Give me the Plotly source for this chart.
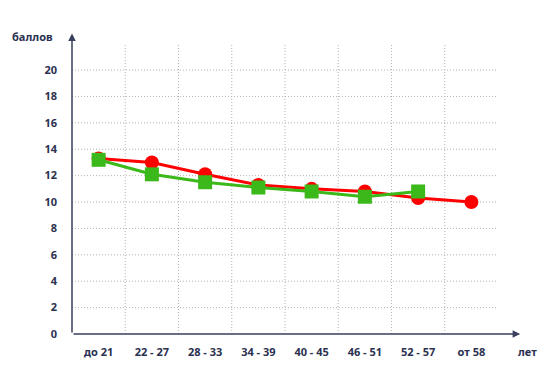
import plotly.graph_objects as go

categories = ["до 21", "22 - 27", "28 - 33", "34 - 39", "40 - 45", "46 - 51", "52 - 57", "от 58"]
red_values = [13.3, 13.0, 12.1, 11.3, 11.0, 10.8, 10.3, 10.0]
green_values = [13.2, 12.1, 11.5, 11.1, 10.8, 10.4, 10.8, None]
y_ticks = [0, 2, 4, 6, 8, 10, 12, 14, 16, 18, 20]

TXT = "#2b3150"
AX = "#3a3f5c"
FONT = dict(family="Noto Sans", size=11, color=TXT)
GRID = dict(color="#b4b4b4", width=1, dash="1px,2px")

fig = go.Figure()
fig.add_trace(go.Scatter(
    x=categories, y=red_values, mode="lines+markers",
    line=dict(color="#ff0000", width=3),
    marker=dict(symbol="circle", size=14, color="#ff0000"),
    showlegend=False))
fig.add_trace(go.Scatter(
    x=categories, y=green_values, mode="lines+markers",
    line=dict(color="#3cb91a", width=3),
    marker=dict(symbol="square", size=14, color="#3cb91a"),
    showlegend=False))

n = len(categories)
# vertical dotted gridlines at category boundaries
for i in range(n - 1):
    fig.add_shape(type="line", xref="x", yref="paper", x0=i + 0.5, x1=i + 0.5, y0=0, y1=1,
                  line=GRID, layer="below")
# horizontal dotted gridlines
for v in y_ticks[1:]:
    fig.add_shape(type="line", xref="paper", yref="y", x0=0, x1=1, y0=v, y1=v,
                  line=GRID, layer="below")

# page body has an 8px margin, so the figure is drawn 8px smaller and offset
W, H = 542, 373
ML, MT, MR, MB = 64, 37, 52, 47
PLOT_W = W - ML - MR
PLOT_H = H - MT - MB
# axis arrows
fig.add_annotation(x=0, y=1.04, xref="paper", yref="paper", ax=0, ay=PLOT_H * 1.04,
                   axref="pixel", ayref="pixel",
                   showarrow=True, arrowhead=2, arrowsize=1, arrowwidth=1.5, arrowcolor=AX, text="")
fig.add_annotation(x=1.052, y=0, xref="paper", yref="paper", ax=-PLOT_W * 1.052, ay=0,
                   axref="pixel", ayref="pixel",
                   showarrow=True, arrowhead=2, arrowsize=1, arrowwidth=1.5, arrowcolor=AX, text="")
fig.add_annotation(x=-0.04, y=1.03, xref="paper", yref="paper", text="<b>баллов</b>", showarrow=False,
                   xanchor="right", yanchor="middle", font=FONT)
fig.add_annotation(x=1.07, y=-0.06, xref="paper", yref="paper", text="<b>лет</b>", showarrow=False,
                   xanchor="center", yanchor="middle", font=FONT)

fig.update_xaxes(type="category", range=[-0.5, n - 0.5], showgrid=False, zeroline=False,
                 showline=False, ticks="", ticklabelstandoff=10,
                 tickvals=categories, ticktext=[f"<b>{c}</b>" for c in categories],
                 tickfont=FONT)
fig.update_yaxes(range=[0, 21.9], tickvals=y_ticks, ticktext=[f"<b>{v}</b>" for v in y_ticks],
                 showgrid=False, zeroline=False, showline=False, ticks="",
                 ticklabelstandoff=14, tickfont=FONT)

fig.update_layout(width=W, height=H,
                  margin=dict(l=ML, r=MR, t=MT, b=MB, autoexpand=False),
                  plot_bgcolor="white", paper_bgcolor="white", showlegend=False)
fig.write_html("out.html")
